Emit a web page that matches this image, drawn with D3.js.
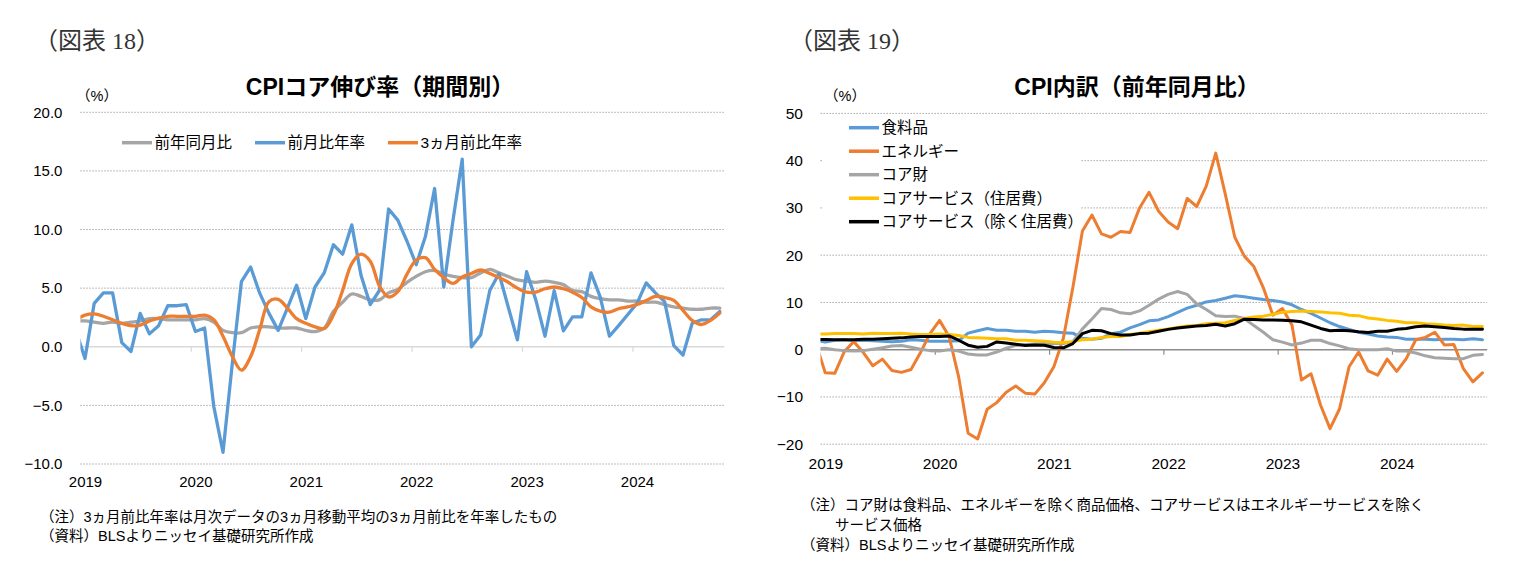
<!DOCTYPE html>
<html>
<head>
<meta charset="utf-8">
<script src="https://cdn.jsdelivr.net/npm/d3@7"></script>
<style>
  body { margin: 0; background: #fff; }
  text { font-family: "Liberation Sans", "Noto Sans CJK JP", sans-serif; fill: #000; }
</style>
</head>
<body>
<svg id="chart" width="1514" height="576"></svg>
<script>
// ---- data (monthly, Dec 2018 .. Oct 2024; Dec 2018 sits left of the plot edge and is clipped)
var years = ["2019", "2020", "2021", "2022", "2023", "2024"];

// 図表18
var coreYoY = [2.2,
  2.2, 2.1, 2.0, 2.1, 2.0, 2.1, 2.2, 2.4, 2.4, 2.3, 2.3, 2.3,
  2.3, 2.4, 2.1, 1.4, 1.2, 1.2, 1.6, 1.7, 1.7, 1.6, 1.6, 1.6,
  1.4, 1.3, 1.6, 3.0, 3.8, 4.5, 4.3, 4.0, 4.0, 4.6, 4.9, 5.5,
  6.0, 6.4, 6.5, 6.2, 6.0, 5.9, 5.9, 6.3, 6.6, 6.3, 6.0, 5.7,
  5.6, 5.5, 5.6, 5.5, 5.3, 4.8, 4.7, 4.3, 4.1, 4.0, 4.0, 3.9,
  3.9, 3.8, 3.8, 3.6, 3.4, 3.3, 3.2, 3.2, 3.3, 3.3];
var coreMoM = [1.4,
  -1.0, 3.7, 4.6, 4.6, 0.35, -0.4, 2.85, 1.1, 1.8, 3.5, 3.5, 3.6,
  1.3, 1.6, -5.1, -9.0, -1.5, 5.55, 6.8, 4.55, 2.85, 1.4, 3.3, 5.25,
  2.4, 5.1, 6.3, 8.7, 7.9, 10.4, 6.1, 3.6, 4.8, 11.75, 10.8, 9.0,
  7.0, 9.4, 13.5, 5.1, 10.8, 16.0, 0.0, 1.0, 4.8, 6.25, 3.4, 0.6,
  6.4, 4.0, 0.9, 4.8, 1.35, 2.55, 2.55, 6.3, 4.25, 0.9, 1.8, 2.75,
  3.7, 5.45, 4.6, 3.85, 0.1, -0.7, 2.0, 2.3, 2.3, 3.0];
var core3M = [2.3,
  2.7, 2.8, 2.6, 2.3, 2.0, 1.8, 1.85, 2.2, 2.45, 2.6, 2.6, 2.6,
  2.6, 2.7, 2.3, 0.9, -0.8, -2.0, -0.85, 1.5, 3.85, 4.05, 3.3, 2.4,
  2.0, 1.7, 1.55, 2.7, 4.8, 7.1, 7.9, 7.3, 5.2, 4.25, 4.7, 6.2,
  7.4, 7.6, 6.6, 5.9, 5.4, 5.95, 6.25, 6.55, 6.25, 5.9, 5.5, 5.0,
  4.66, 4.66, 4.95, 5.1, 4.95, 4.66, 4.2, 3.4, 3.04, 2.95, 3.24, 3.4,
  3.6, 3.95, 4.3, 4.2, 3.95, 3.1, 2.25, 1.9, 2.25, 2.87];

// 図表19
var food = [2.0,
  1.6, 2.0, 2.1, 1.9, 2.0, 1.9, 1.8, 1.7, 1.8, 2.1, 2.0, 1.8,
  1.8, 1.8, 1.9, 3.5, 4.0, 4.5, 4.1, 4.1, 3.9, 3.9, 3.7, 3.9,
  3.8, 3.6, 3.5, 2.4, 2.2, 2.4, 3.4, 3.7, 4.6, 5.3, 6.1, 6.3,
  7.0, 7.9, 8.8, 9.4, 10.1, 10.4, 10.9, 11.4, 11.2, 10.9, 10.6, 10.4,
  10.1, 9.5, 8.5, 7.7, 6.7, 5.7, 4.9, 4.3, 3.7, 3.3, 2.9, 2.7,
  2.6, 2.2, 2.2, 2.2, 2.1, 2.2, 2.2, 2.1, 2.3, 2.1];
var energy = [1.5,
  -4.9, -5.0, -0.4, 1.7, -0.6, -3.4, -2.0, -4.4, -4.8, -4.2, -0.6, 3.4,
  6.2, 2.8, -5.7, -17.7, -18.9, -12.6, -11.2, -9.0, -7.7, -9.2, -9.4, -7.0,
  -3.6, 2.4, 13.2, 25.1, 28.5, 24.5, 23.8, 25.0, 24.8, 30.0, 33.3, 29.3,
  27.0, 25.6, 32.0, 30.3, 34.6, 41.6, 32.9, 23.8, 19.8, 17.6, 13.1, 7.3,
  8.7, 5.2, -6.4, -5.1, -11.7, -16.7, -12.5, -3.6, -0.5, -4.5, -5.4, -2.0,
  -4.6, -1.9, 2.1, 2.6, 3.7, 1.0, 1.1, -4.0, -6.8, -4.9];
var coreGoods = [0.2,
  0.3, 0.0, -0.2, -0.3, -0.2, 0.1, 0.4, 0.8, 0.9, 0.5, 0.1, -0.2,
  -0.3, 0.0, -0.3, -0.9, -1.1, -1.1, -0.5, 0.3, 0.9, 1.1, 1.2, 1.3,
  1.3, 1.3, 1.7, 4.4, 6.5, 8.7, 8.5, 7.8, 7.6, 8.2, 9.4, 10.7,
  11.7, 12.3, 11.7, 9.7, 8.5, 7.2, 7.0, 7.1, 6.6, 5.1, 3.7, 2.1,
  1.6, 1.0, 1.4, 2.0, 2.0, 1.3, 0.8, 0.2, 0.0, 0.0, 0.0, 0.2,
  -0.3, -0.3, -0.7, -1.3, -1.7, -1.8, -1.9, -1.9, -1.2, -1.0];
var shelter = [3.3,
  3.3, 3.4, 3.4, 3.4, 3.3, 3.5, 3.4, 3.4, 3.5, 3.3, 3.2, 3.2,
  3.3, 3.2, 3.0, 2.6, 2.5, 2.4, 2.3, 2.3, 2.0, 2.0, 1.9, 1.8,
  1.6, 1.5, 1.7, 2.1, 2.2, 2.6, 2.8, 2.8, 3.2, 3.5, 3.8, 4.1,
  4.4, 4.7, 5.0, 5.1, 5.5, 5.6, 5.7, 6.2, 6.6, 6.9, 7.1, 7.5,
  7.9, 8.1, 8.2, 8.1, 8.0, 7.8, 7.7, 7.3, 7.2, 6.7, 6.5, 6.2,
  6.0, 5.7, 5.7, 5.5, 5.4, 5.2, 5.1, 5.2, 4.9, 4.9];
var servExShelter = [2.2,
  2.15, 2.1, 2.1, 2.1, 2.2, 2.2, 2.3, 2.4, 2.5, 2.7, 2.8, 2.8,
  2.8, 2.9, 2.0, 0.95, 0.5, 0.7, 1.65, 1.4, 1.15, 0.9, 1.0, 0.95,
  0.45, 0.4, 1.3, 3.4, 4.1, 4.0, 3.4, 3.1, 3.1, 3.4, 3.5, 3.9,
  4.3, 4.6, 4.8, 5.0, 5.1, 5.4, 5.0, 5.5, 6.45, 6.4, 6.3, 6.3,
  6.25, 6.1, 5.9, 5.2, 4.5, 4.0, 4.1, 4.0, 3.8, 3.65, 3.9, 3.9,
  4.3, 4.5, 4.85, 5.0, 4.85, 4.7, 4.5, 4.35, 4.3, 4.35];

var leftNames = ["前年同月比", "前月比年率", "3ヵ月前比年率"];
var rightNames = ["食料品", "エネルギー", "コア財", "コアサービス（住居費）", "コアサービス（除く住居費）"];
var leftNotes = ["（注）3ヵ月前比年率は月次データの3ヵ月移動平均の3ヵ月前比を年率したもの",
                 "（資料）BLSよりニッセイ基礎研究所作成"];
var rightNotes = ["（注）コア財は食料品、エネルギーを除く商品価格、コアサービスはエネルギーサービスを除く",
                  "サービス価格",
                  "（資料）BLSよりニッセイ基礎研究所作成"];

var svg = d3.select("#chart");

// index -1 = Dec 2018, 0 = Jan 2019 ... 69 = Oct 2024 ; each month is one slot
function drawPanel(p) {
  var x = d3.scaleLinear().domain([-0.5, 69.5]).range([p.left, p.right]);
  var y = d3.scaleLinear().domain(p.yDomain).range([p.bottom, p.top]);
  var g = svg.append("g");

  svg.append("clipPath").attr("id", "clip" + p.id)
    .append("rect")
    .attr("x", p.left).attr("y", p.top - 30)
    .attr("width", p.right - p.left).attr("height", p.bottom - p.top + 60);

  // dotted grid
  g.append("g").selectAll("line")
    .data(p.yTicks.filter(function(d){ return d !== 0; }))
    .join("line")
    .attr("x1", p.left).attr("x2", p.right)
    .attr("y1", function(d){ return y(d); }).attr("y2", function(d){ return y(d); })
    .attr("stroke", "#9a9a9a").attr("stroke-width", 1)
    .attr("stroke-dasharray", "1.3,1.7");

  // y labels
  var ya = g.append("g").attr("transform", "translate(" + p.left + ",0)")
    .call(d3.axisLeft(y).tickValues(p.yTicks).tickSize(0).tickPadding(p.yPad).tickFormat(p.yFormat));
  ya.select(".domain").remove();
  ya.selectAll("text").attr("font-size", p.tickFont).attr("fill", "#000")
    .style("font-family", "'Liberation Sans', sans-serif");

  // zero line with year ticks hanging below
  var za = g.append("g").attr("transform", "translate(0," + y(0) + ")")
    .call(d3.axisBottom(x).tickValues([11.5, 23.5, 35.5, 47.5, 59.5]).tickSize(5).tickFormat(""));
  za.select(".domain").attr("d", "M" + p.left + ",0H" + p.right)
    .attr("stroke", p.zeroColor).attr("stroke-width", 1.5);
  za.selectAll(".tick line").attr("stroke", p.zeroColor).attr("stroke-width", 1.2);

  // year labels, centred on January
  var xa = g.append("g").attr("transform", "translate(0," + p.bottom + ")")
    .call(d3.axisBottom(x).tickValues([0, 12, 24, 36, 48, 60]).tickSize(0).tickPadding(p.xPad)
      .tickFormat(function(d){ return years[d / 12]; }));
  xa.select(".domain").remove();
  xa.selectAll("text").attr("font-size", p.tickFont).attr("fill", "#000")
    .style("font-family", "'Liberation Sans', sans-serif");

  // legend background (covers grid where needed)
  if (p.legendBox) {
    g.append("rect").attr("x", p.legendBox[0]).attr("y", p.legendBox[1])
      .attr("width", p.legendBox[2]).attr("height", p.legendBox[3]).attr("fill", "#fff");
  }

  // series
  var lines = g.append("g").attr("clip-path", "url(#clip" + p.id + ")");
  p.series.forEach(function(s) {
    var line = d3.line()
      .x(function(d, i){ return x(i - 1); })
      .y(function(d){ return y(d); })
      .curve(s.smooth ? d3.curveCatmullRom.alpha(0.5) : d3.curveLinear);
    lines.append("path").datum(s.values)
      .attr("d", line)
      .attr("fill", "none")
      .attr("stroke", s.color)
      .attr("stroke-width", p.lineWidth)
      .attr("stroke-linejoin", "round")
      .attr("stroke-linecap", "round");
  });

  // legend
  var lg = g.append("g");
  p.series.forEach(function(s, i) {
    var pos = p.legendPos[i];
    lg.append("line").attr("x1", pos[0]).attr("x2", pos[0] + 30)
      .attr("y1", pos[1]).attr("y2", pos[1])
      .attr("stroke", s.color).attr("stroke-width", 3.5);
    lg.append("text").attr("x", pos[0] + 32.5).attr("y", pos[1]).attr("dy", "0.36em")
      .attr("font-size", 15.5).text(s.name);
  });

  // headings
  g.append("text").attr("x", p.figX).attr("y", 49)
    .style("font-family", "'Liberation Serif', 'Noto Sans CJK JP', serif")
    .attr("font-size", 24).style("fill", "#333").text(p.fig);
  g.append("text").attr("x", p.titleX).attr("y", 95).attr("text-anchor", "middle")
    .attr("font-size", 23).attr("font-weight", "bold").text(p.title);
  g.append("text").attr("x", p.unitX).attr("y", 96).attr("dy", "0.36em")
    .attr("font-size", 14.5).text("（%）");

  // notes
  g.append("g").selectAll("text").data(p.notes).join("text")
    .attr("x", function(d, i){ return p.noteX[i]; })
    .attr("y", function(d, i){ return p.noteY[i]; })
    .attr("font-size", 14.5).text(function(d){ return d; });
}

drawPanel({
  id: "L", left: 80.4, right: 724.4, top: 112.3, bottom: 464,
  yDomain: [-10, 20], yTicks: [-10, -5, 0, 5, 10, 15, 20], yFormat: d3.format(".1f"),
  yPad: 18, xPad: 12, tickFont: 15, zeroColor: "#d9d9d9", lineWidth: 3.3,
  series: [
    { name: leftNames[0], values: coreYoY, color: "#a5a5a5", smooth: true },
    { name: leftNames[1], values: coreMoM, color: "#5b9bd5" },
    { name: leftNames[2], values: core3M, color: "#ed7d31", smooth: true }
  ],
  legendPos: [[122, 142.7], [255, 142.7], [388, 142.7]],
  fig: "（図表 18）", figX: 34,
  title: "CPIコア伸び率（期間別）", titleX: 380, unitX: 76,
  notes: leftNotes, noteX: [40, 40], noteY: [522, 541]
});

drawPanel({
  id: "R", left: 820.5, right: 1487.2, top: 113.4, bottom: 444.2,
  yDomain: [-20, 50], yTicks: [-20, -10, 0, 10, 20, 30, 40, 50], yFormat: d3.format("d"),
  yPad: 17.5, xPad: 13.5, tickFont: 15.5, zeroColor: "#8c8c8c", lineWidth: 3,
  legendBox: [823, 117, 257, 117],
  series: [
    { name: rightNames[0], values: food, color: "#5b9bd5" },
    { name: rightNames[1], values: energy, color: "#ed7d31" },
    { name: rightNames[2], values: coreGoods, color: "#a5a5a5" },
    { name: rightNames[3], values: shelter, color: "#ffc000" },
    { name: rightNames[4], values: servExShelter, color: "#000000" }
  ],
  legendPos: [[849, 127.7], [849, 151.2], [849, 174.7], [849, 198.2], [849, 221.7]],
  fig: "（図表 19）", figX: 789,
  title: "CPI内訳（前年同月比）", titleX: 1137, unitX: 824,
  notes: rightNotes, noteX: [801, 835, 801], noteY: [510, 530, 550]
});
</script>
</body>
</html>
